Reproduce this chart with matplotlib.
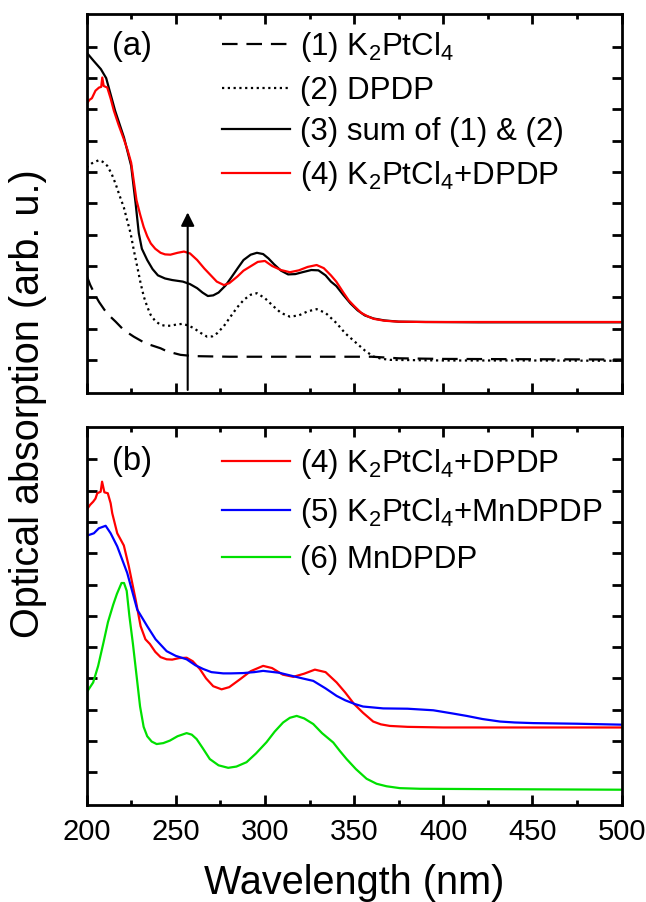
import matplotlib
matplotlib.use('Agg')
import matplotlib.pyplot as plt
from matplotlib.ticker import MultipleLocator

plt.rcParams['font.family'] = ['Liberation Sans', 'DejaVu Sans']
plt.rcParams['mathtext.default'] = 'regular'

# ---- panel (a) ----
k2ptcl4_x = [200, 202, 205, 207, 210, 213, 216.3, 220.9, 226.5, 233, 241.5, 245.2, 252.7, 260,
             280, 320, 360, 375, 400, 450, 500]
k2ptcl4_y = [2.7, 2.4, 2.05, 1.85, 1.6, 1.4, 1.22, 0.95, 0.74, 0.53, 0.37, 0.27, 0.16, 0.12,
             0.1, 0.1, 0.1, 0.05, 0.03, 0.02, 0.01]

dpdp_x = [200, 203, 206.9, 209, 211.6, 214, 216.3, 218.5, 220.9, 222.8, 224.7, 226.5, 228.4, 230.3,
          232.1, 234, 235.9, 238.5, 241.5, 244, 247.1, 250.5, 253.6, 257, 260.2, 264, 267.6, 270.5,
          273.2, 277, 280.7, 284.5, 288.2, 292, 295.5, 300, 304.6, 309, 314, 319, 324, 329, 334,
          340.2, 345, 351.4, 356, 360.7, 365, 370, 400, 450, 500]
dpdp_y = [6.15, 6.28, 6.38, 6.33, 6.2, 5.95, 5.62, 5.25, 4.87, 4.45, 4.04, 3.5, 2.98, 2.45,
          2.02, 1.7, 1.44, 1.24, 1.12, 1.09, 1.09, 1.13, 1.15, 1.1, 1.01, 0.86, 0.74, 0.75,
          0.85, 1.08, 1.38, 1.68, 1.92, 2.08, 2.13, 1.97, 1.72, 1.5, 1.38, 1.42, 1.55, 1.62, 1.5,
          1.17, 0.85, 0.53, 0.3, 0.11, 0.04, 0.0, -0.02, -0.02, -0.03]

sum_x = [200, 204, 208, 211, 216, 221, 225, 227.5, 229.3, 231, 234, 237, 240, 244, 248, 254, 258,
         262, 265, 268, 271, 274, 278, 281, 285, 288, 292, 295.5, 299, 302, 305, 309, 313, 317,
         321, 326, 330, 334, 337, 340, 344, 348, 352, 356, 361, 367, 375, 390, 420, 460, 500]
sum_y = [9.82, 9.55, 9.29, 9.0, 7.96, 7.1, 6.2, 5.0, 4.04, 3.55, 3.19, 2.9, 2.7, 2.6, 2.55, 2.5, 2.42,
         2.29, 2.15, 2.04, 2.06, 2.15, 2.38, 2.62, 2.95, 3.19, 3.36, 3.42, 3.38, 3.24, 3.06, 2.85, 2.73, 2.74,
         2.8, 2.87, 2.86, 2.7, 2.5, 2.36, 2.07, 1.8, 1.58, 1.42, 1.32, 1.26, 1.22, 1.21, 1.2, 1.2, 1.2]

mix_x = [200, 201.5, 203, 205, 207, 208.2, 208.8, 209.6, 211.6, 213.5, 215.3, 218, 220.9, 223, 225,
         226, 228, 230, 232, 234, 236, 238.5, 241.5, 244, 247, 251, 254.6, 258, 262, 266, 269.5,
         273, 277, 280, 284.5, 288, 292, 296, 300, 304, 309, 314, 319, 324, 329, 333, 337, 340,
         344, 347, 350, 354, 358, 361, 367, 375, 390, 500]
mix_y = [8.17, 8.3, 8.36, 8.6, 8.7, 8.72, 9.02, 8.75, 8.7, 8.35, 7.96, 7.5, 7.05, 6.7, 6.3,
         5.9, 5.1, 4.65, 4.25, 3.95, 3.72, 3.55, 3.42, 3.37, 3.36, 3.42, 3.46, 3.4, 3.19, 2.92, 2.71,
         2.5, 2.39, 2.45, 2.66, 2.85, 2.99, 3.13, 3.16, 3.0, 2.87, 2.8, 2.86, 2.97, 3.03, 2.93, 2.7, 2.5,
         2.15, 1.9, 1.72, 1.5, 1.38, 1.31, 1.25, 1.22, 1.21, 1.21]

# ---- panel (b) ----
mix_b_x = [200, 202, 203.7, 205, 206, 207.9, 208.7, 210, 211.9, 213.5, 214.4, 217.2, 220.9, 223.7,
           227.5, 230.3, 233, 235.5, 238.5, 241.5, 244.9, 248, 252, 256.1, 259.5, 263.5, 267, 271,
           275.7, 280, 286, 292, 299, 304, 310, 315.9, 322, 328, 334, 340.2, 345, 350, 355, 360.7,
           365, 370, 380, 400, 450, 500]
mix_b_y = [8.39, 8.55, 8.65, 8.75, 8.92, 8.97, 9.29, 8.95, 8.92, 8.6, 8.28, 7.64, 7.25, 6.58,
           5.52, 4.67, 4.25, 4.1, 3.85, 3.68, 3.61, 3.6, 3.65, 3.66, 3.55, 3.3, 3.0, 2.75,
           2.65, 2.72, 2.97, 3.23, 3.4, 3.33, 3.12, 3.05, 3.15, 3.28, 3.2, 2.87, 2.55, 2.18, 1.9, 1.62,
           1.53, 1.48, 1.45, 1.43, 1.43, 1.43]

mn_mix_x = [200, 204.1, 206.9, 210.7, 213.5, 217.2, 222.8, 228.4, 234, 238.7, 244.9, 250, 256.1,
            261, 265.4, 270, 276.6, 281, 287.8, 294, 299, 308, 315.9, 321, 327.1, 334, 340.2,
            345, 350.4, 355, 360.7, 366.3, 380, 394.4, 405, 413.1, 422, 431.8, 440, 450.4, 475, 500]
mn_mix_y = [7.56, 7.64, 7.8, 7.88, 7.64, 7.22, 6.37, 5.2, 4.67, 4.25, 3.87, 3.72, 3.61,
            3.42, 3.3, 3.2, 3.16, 3.16, 3.17, 3.2, 3.24, 3.18, 3.07, 3.0, 2.92, 2.68, 2.44,
            2.3, 2.18, 2.1, 2.07, 2.04, 2.03, 1.98, 1.88, 1.8, 1.7, 1.62, 1.59, 1.57, 1.55, 1.52]

mndpdp_x = [200, 203.7, 206.5, 209.5, 212, 214.9, 217, 219.6, 221, 222.5, 224, 226, 228, 230, 232,
            234, 236.5, 239.3, 243, 246.7, 251, 256.1, 259, 261.7, 265, 269.1, 274, 279.4, 284,
            289.7, 295, 300.9, 305.5, 310.2, 314, 317.8, 322, 327.1, 332, 338.3, 342, 345.8, 351,
            357, 362.6, 368.2, 375.7, 386.9, 420, 460, 500]
mndpdp_y = [2.55, 2.87, 3.4, 4.15, 4.8, 5.35, 5.7, 6.05, 6.05, 5.8, 5.0, 4.1, 3.1, 2.1, 1.45,
            1.15, 0.98, 0.9, 0.93, 1.01, 1.15, 1.25, 1.2, 1.06, 0.78, 0.42, 0.22, 0.14, 0.18,
            0.32, 0.6, 0.96, 1.3, 1.59, 1.74, 1.8, 1.72, 1.54, 1.25, 0.95, 0.68, 0.42, 0.1,
            -0.21, -0.37, -0.45, -0.51, -0.53, -0.54, -0.55, -0.56]

arrow_x = 256.7
arrow_top = 4.8

fig = plt.figure(figsize=(6.46, 9.02), dpi=100)
ax1 = fig.add_axes([0.134, 0.5646, 0.8283, 0.4199])
ax2 = fig.add_axes([0.134, 0.1075, 0.8283, 0.4195])

lw = 1.6
ax1.plot(k2ptcl4_x, k2ptcl4_y, color='k', lw=lw, dashes=[7, 4], label=r'(1) K$_2$PtCl$_4$')
ax1.plot(dpdp_x, dpdp_y, color='k', lw=lw, dashes=[1, 1.6], label='(2) DPDP')
ax1.plot(sum_x, sum_y, color='k', lw=lw, label='(3) sum of (1) & (2)')
ax1.plot(mix_x, mix_y, color='#ff0000', lw=lw, label=r'(4) K$_2$PtCl$_4$+DPDP')
ax1.annotate('', xy=(arrow_x, arrow_top), xytext=(arrow_x, -1.05),
             arrowprops=dict(arrowstyle='-|>', color='k', lw=1.5, mutation_scale=20))

ax2.plot(mix_b_x, mix_b_y, color='#ff0000', lw=lw, label=r'(4) K$_2$PtCl$_4$+DPDP')
ax2.plot(mn_mix_x, mn_mix_y, color='#0000ff', lw=lw, label=r'(5) K$_2$PtCl$_4$+MnDPDP')
ax2.plot(mndpdp_x, mndpdp_y, color='#00e000', lw=lw, label='(6) MnDPDP')

for ax in (ax1, ax2):
    ax.set_xlim(200, 500)
    ax.set_ylim(-1.05, 11.05)
    ax.xaxis.set_major_locator(MultipleLocator(50))
    ax.xaxis.set_minor_locator(MultipleLocator(25))
    ax.set_yticks(range(0, 11))
    ax.tick_params(axis='both', which='both', direction='in', top=True, right=True, width=2,
                   labelleft=False, labelsize=21, pad=9)
    ax.tick_params(axis='both', which='major', length=7.2)
    ax.tick_params(axis='x', which='minor', length=3.6)
    for s in ax.spines.values():
        s.set_linewidth(2)

ax1.tick_params(axis='x', labelbottom=False)

ax1.text(0.047, 0.913, '(a)', transform=ax1.transAxes, fontsize=23.5, va='center', ha='left')
ax2.text(0.047, 0.907, '(b)', transform=ax2.transAxes, fontsize=23.5, va='center', ha='left')

leg_kw = dict(loc='upper left', frameon=False, fontsize=22.5, handlelength=2.2,
              handletextpad=0.32, borderaxespad=0, borderpad=0)
ax1.legend(bbox_to_anchor=(0.2523, 0.957), labelspacing=0.37, **leg_kw)
ax2.legend(bbox_to_anchor=(0.2523, 0.947), labelspacing=0.49, **leg_kw)

ax2.set_xlabel('Wavelength (nm)', fontsize=28.5, labelpad=13)
fig.text(0.043, 0.5527, 'Optical absorption (arb. u.)', rotation=90, fontsize=28.5,
         ha='center', va='center')

fig.savefig('out.png', dpi=100)
